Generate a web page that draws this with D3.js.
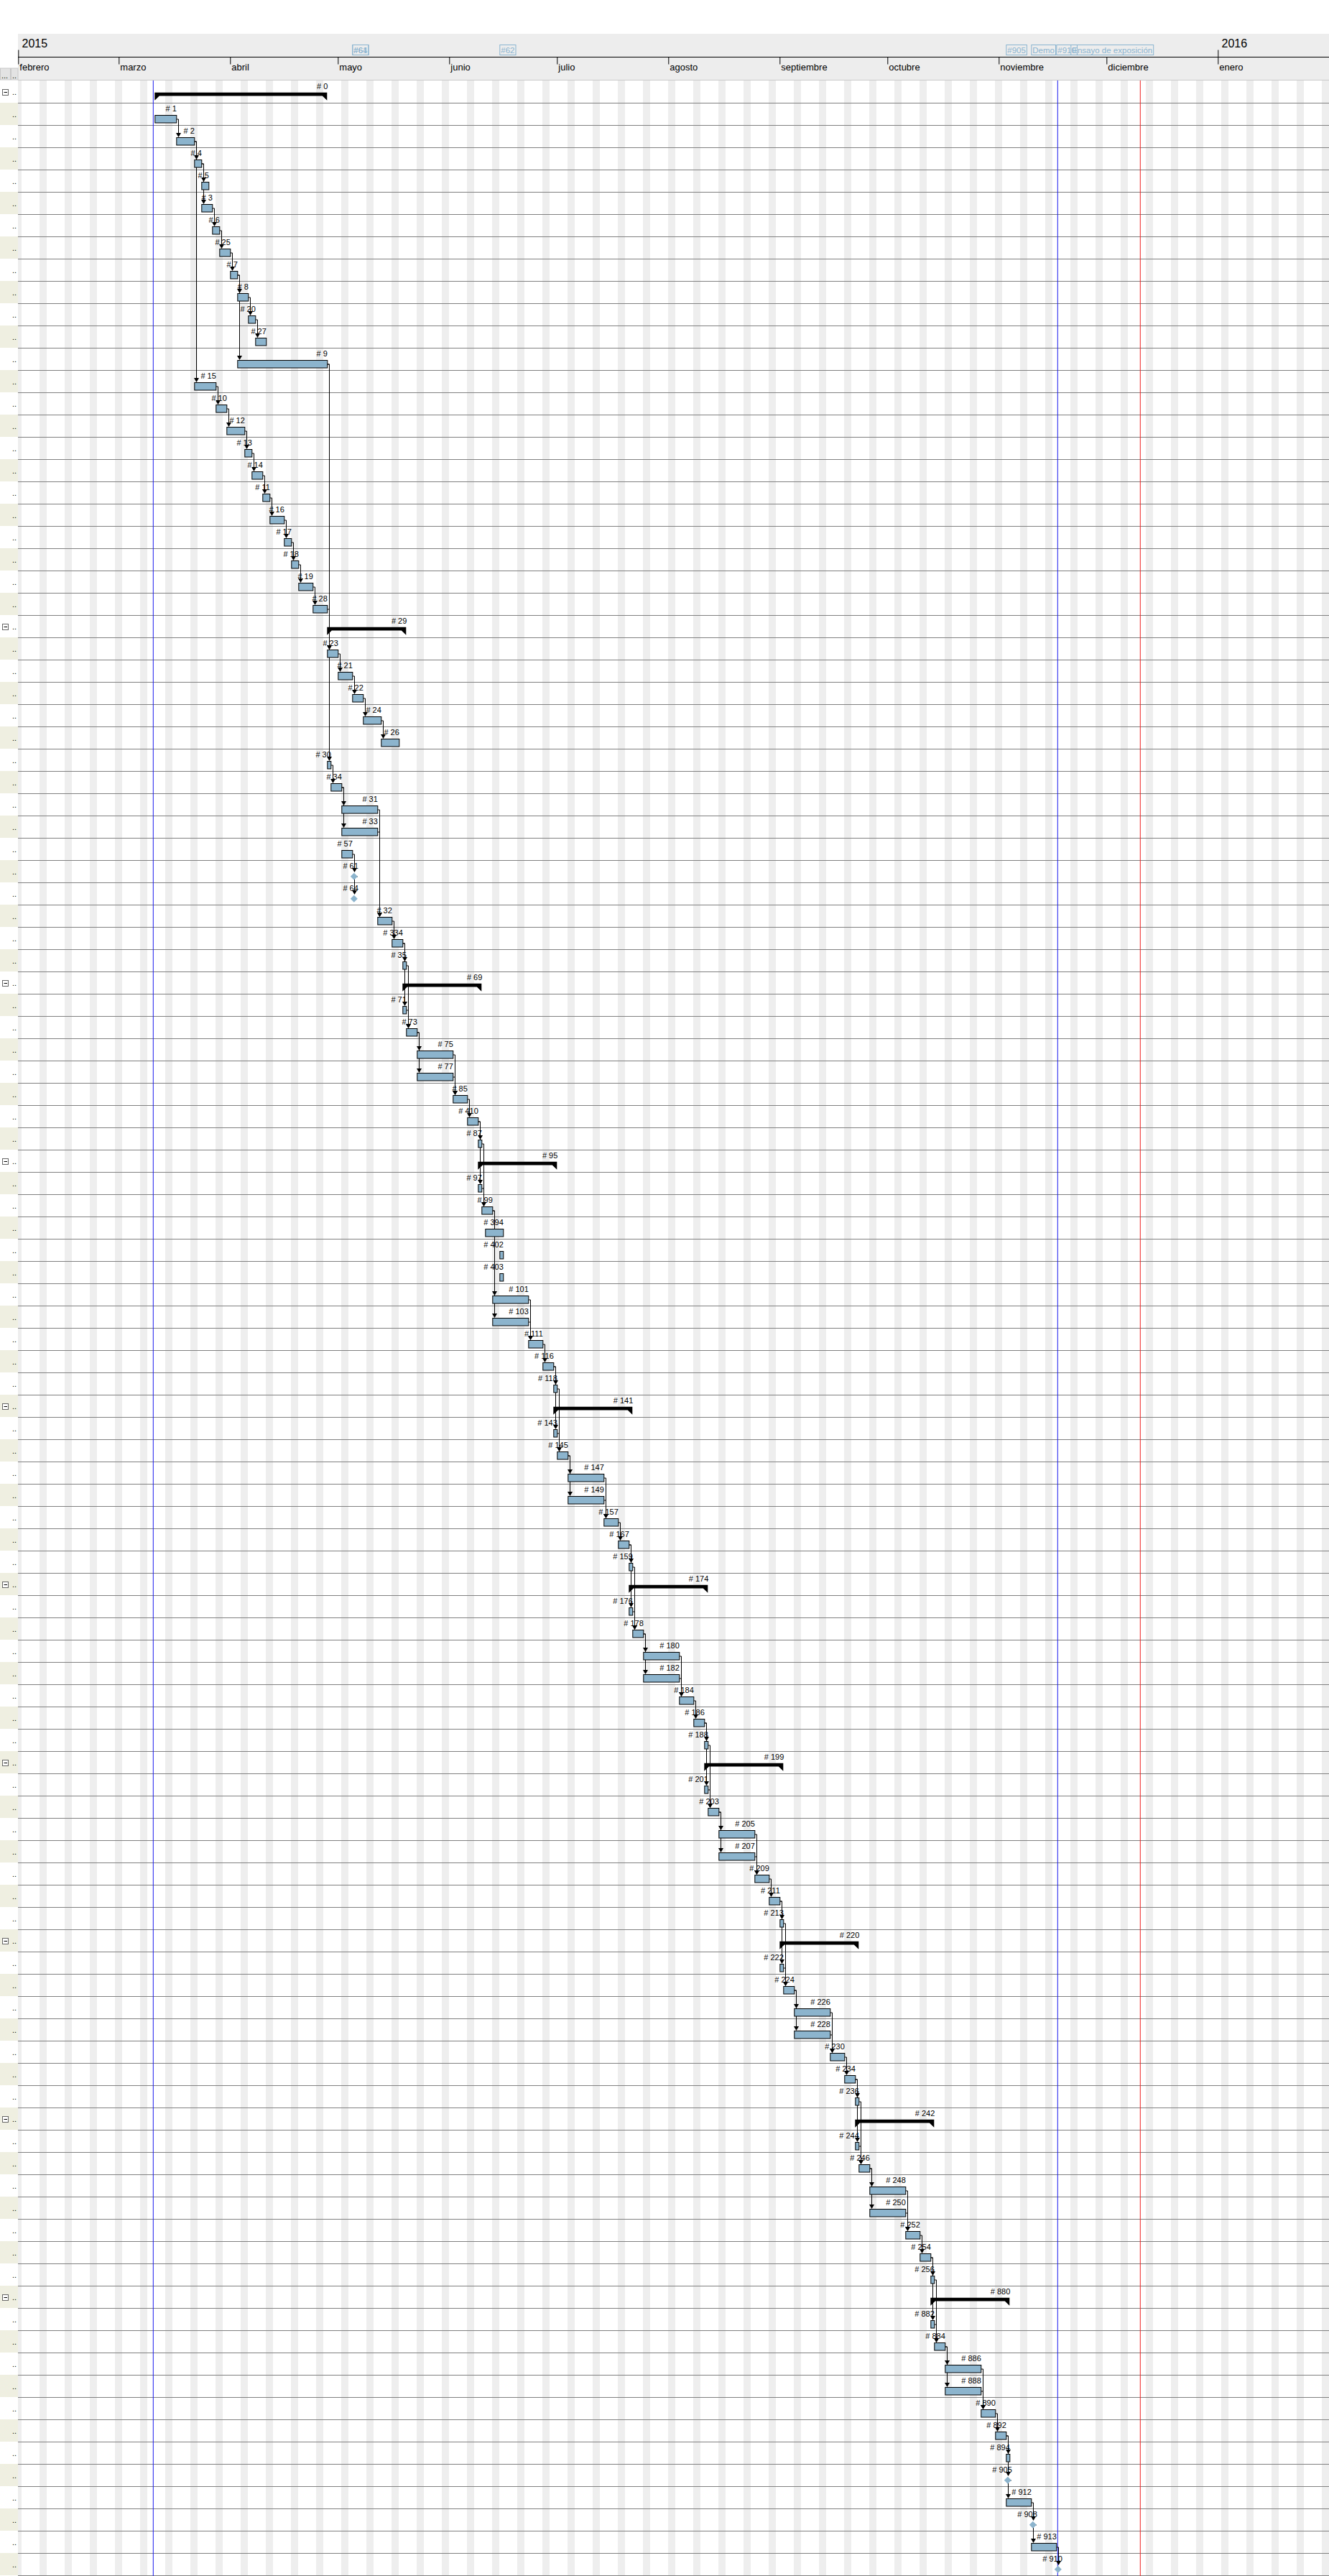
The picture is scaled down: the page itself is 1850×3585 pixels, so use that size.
<!DOCTYPE html>
<html><head><meta charset="utf-8">
<script src="https://cdn.jsdelivr.net/npm/d3@7"></script>
<style>body{margin:0;background:#fff}svg{display:block}</style>
</head><body><svg id="c" width="1850" height="3585"></svg>
<script>
// ---------- data ----------
const taskIds = ["0","1","2","4","5","3","6","25","7","8","20","27","9","15","10","12","13","14","11","16","17","18","19","28",
"29","23","21","22","24","26","30","34","31","33","57","61","64","32","334","35",
"69","71","73","75","77","85","410","87",
"95","97","99","394","402","403","101","103","111","116","118",
"141","143","145","147","149","157","167","159",
"174","176","178","180","182","184","186","188",
"199","201","203","205","207","209","211","213",
"220","222","224","226","228","230","234","236",
"242","244","246","248","250","252","254","256",
"880","882","884","886","888","890","892","894",
"905","912","908","913","910"];
const taskKinds = ("S T T T T T T T T T T T T T T T T T T T T T T T " +
"S T T T T T T T T T T M M T T T " +
"S T T T T T T T " +
"S T T T T T T T T T T " +
"S T T T T T T T " +
"S T T T T T T T " +
"S T T T T T T T " +
"S T T T T T T T " +
"S T T T T T T T " +
"S T T T T T T T " +
"M T M T M").split(" ");
const taskStart = ["03-11","03-11","03-17","03-22","03-24","03-24","03-27","03-29","04-01","04-03","04-06","04-08","04-03","03-22","03-28","03-31","04-05","04-07","04-10","04-12","04-16","04-18","04-20","04-24",
"04-28","04-28","05-01","05-05","05-08","05-13","04-28","04-29","05-02","05-02","05-02","05-05","05-05","05-12","05-16","05-19",
"05-19","05-19","05-20","05-23","05-23","06-02","06-06","06-09",
"06-09","06-09","06-10","06-11","06-15","06-15","06-13","06-13","06-23","06-27","06-30",
"06-30","06-30","07-01","07-04","07-04","07-14","07-18","07-21",
"07-21","07-21","07-22","07-25","07-25","08-04","08-08","08-11",
"08-11","08-11","08-12","08-15","08-15","08-25","08-29","09-01",
"09-01","09-01","09-02","09-05","09-05","09-15","09-19","09-22",
"09-22","09-22","09-23","09-26","09-26","10-06","10-10","10-13",
"10-13","10-13","10-14","10-17","10-17","10-27","10-31","11-03",
"11-03","11-03","11-10","11-10","11-17"];
const taskEnd = ["04-28","03-17","03-22","03-24","03-26","03-27","03-29","04-01","04-03","04-06","04-08","04-11","04-28","03-28","03-31","04-05","04-07","04-10","04-12","04-16","04-18","04-20","04-24","04-28",
"05-20","05-01","05-05","05-08","05-13","05-18","04-29","05-02","05-12","05-12","05-05","05-05","05-05","05-16","05-19","05-20",
"06-10","05-20","05-23","06-02","06-02","06-06","06-09","06-10",
"07-01","06-10","06-13","06-16","06-16","06-16","06-23","06-23","06-27","06-30","07-01",
"07-22","07-01","07-04","07-14","07-14","07-18","07-21","07-22",
"08-12","07-22","07-25","08-04","08-04","08-08","08-11","08-12",
"09-02","08-12","08-15","08-25","08-25","08-29","09-01","09-02",
"09-23","09-02","09-05","09-15","09-15","09-19","09-22","09-23",
"10-14","09-23","09-26","10-06","10-06","10-10","10-13","10-14",
"11-04","10-14","10-17","10-27","10-27","10-31","11-03","11-04",
"11-03","11-10","11-10","11-17","11-17"];
const linkFrom = ["1","2","2","4","4","3","6","25","7","7","8","20","15","10","12","13","14","11","16","17","18","19",
"28","9","9","23","21","22","24","30","34","34","57","61","31","33","32","334","334","35","71",
"73","73","75","77","85","410","410","87","97","99","99","101","103","111","116","116","118",
"143","145","145","147","149","157","167","167","159","176","178","178","180","182","184","186","186","188",
"201","203","203","205","207","209","211","211","213","222","224","224","226","228","230","234","234","236",
"244","246","246","248","250","252","254","254","256","882","884","884","886","888","890","892","892","905","912","908","913"];
const linkTo = ["2","4","15","5","3","6","25","7","8","9","20","27","10","12","13","14","11","16","17","18","19","28",
"23","23","30","21","22","24","26","34","31","33","61","64","32","32","334","35","71","73","73",
"75","77","85","85","410","87","97","99","99","101","103","111","111","116","118","143","145",
"145","147","149","157","157","167","159","176","178","178","180","182","184","184","186","188","201","203",
"203","205","207","209","209","211","213","222","224","224","226","228","230","230","234","236","244","246",
"246","248","250","252","252","254","256","882","884","884","886","888","890","890","892","894","905","912","908","913","910"];
const monthNames = ["enero","febrero","marzo","abril","mayo","junio","julio","agosto","septiembre","octubre","noviembre","diciembre"];
const yearLabels = ["2015","2016"];
const markerLabels = ["#61","#64","#62","#905","Demo","#910","Ensayo de exposición"];
const markerDates = ["05-05","05-05","06-15","11-03","11-10","11-17","11-21"];
const projectStart = "03-11", projectEnd = "11-17", todayDate = "12-10";

// ---------- helpers ----------
const pd = s => new Date(Date.UTC(2015, +s.slice(0,2)-1, +s.slice(3,5)));
const W = 1850, ROW = 31, TOP = 112, LEFT = 25.3, H = 3585;
const t0 = new Date(Date.UTC(2015,1,1)), t1 = new Date(Date.UTC(2016,1,1));
const x = d3.scaleUtc().domain([t0, t1]).range([LEFT, LEFT + 365*5]);
const svg = d3.select("#c");
const FONT = "'Liberation Sans', Arial, sans-serif";
const nRows = taskIds.length;
const rowTop = i => TOP + ROW*i;
const tasks = taskIds.map((id,i) => ({id, i, kind: taskKinds[i], s: pd(taskStart[i]), e: pd(taskEnd[i])}));
const byId = new Map(tasks.map(t => [t.id, t]));

// header
svg.append("rect").attr("x", 25).attr("y", 47).attr("width", W-25).attr("height", 64).attr("fill", "#ededed");
svg.append("line").attr("x1", 25).attr("x2", W).attr("y1", 111.5).attr("y2", 111.5).attr("stroke", "#c9c9c9");

// weekend stripes
const days = d3.utcDay.range(t0, t1);
svg.append("g").selectAll("rect").data(days.filter(d => d.getUTCDay() === 6 || d.getUTCDay() === 0))
  .join("rect").attr("x", d => x(d)).attr("y", 112).attr("width", d => x(d3.utcDay.offset(d,1)) - x(d))
  .attr("height", H-112).attr("fill", "#eeeeee").attr("shape-rendering","crispEdges");

// left column
const lc = svg.append("g");
tasks.forEach(t => {
  const y = rowTop(t.i);
  lc.append("rect").attr("x",0).attr("y",y).attr("width",25).attr("height",ROW)
    .attr("fill", t.i % 2 ? "#efefe1" : "#ffffff");
  lc.append("text").attr("x",17).attr("y",y+20).attr("font-family",FONT).attr("font-size",11).text("..");
  if (t.kind === "S") {
    lc.append("rect").attr("x",3.5).attr("y",y+12.5).attr("width",8).attr("height",8).attr("fill","#fff").attr("stroke","#666");
    lc.append("line").attr("x1",5.5).attr("x2",10).attr("y1",y+16.5).attr("y2",y+16.5).attr("stroke","#000");
  }
});
// header buttons
[[0.5,14],[15.5,9.5]].forEach(([bx,bw],k) => {
  svg.append("rect").attr("x",bx).attr("y",95).attr("width",bw).attr("height",16).attr("fill","#e3e3e3").attr("stroke","#c8c8c8");
  svg.append("text").attr("x",bx+1.5).attr("y",109).attr("font-family",FONT).attr("font-size",11).text(k? "..":"...");
});

// row lines
svg.append("g").selectAll("line").data(d3.range(nRows)).join("line")
  .attr("x1",25).attr("x2",W).attr("y1", i => rowTop(i)+ROW+0.5).attr("y2", i => rowTop(i)+ROW+0.5)
  .attr("stroke","#808080");

// axes
const gMonth = svg.append("g").attr("transform","translate(0,79.5)")
  .call(d3.axisBottom(x).tickValues(d3.utcMonth.range(t0, t1)).tickSize(10).tickFormat(d => monthNames[d.getUTCMonth()]));
gMonth.select(".domain").attr("d", `M25,0H${W}`).attr("stroke","#000");
gMonth.selectAll(".tick text").attr("text-anchor","start").attr("x",1.5).attr("y",18.2).attr("dy",0)
  .attr("font-family",FONT).attr("font-size",13).attr("fill","#000");
const gYear = svg.append("g").attr("transform","translate(0,79.5)")
  .call(d3.axisTop(x).tickValues([t0, new Date(Date.UTC(2016,0,1))]).tickSize(10)
    .tickFormat((d,k) => yearLabels[k]));
gYear.select(".domain").remove();
gYear.selectAll(".tick text").attr("text-anchor","start").attr("x",4.7).attr("y",-13.5).attr("dy",0)
  .attr("font-family",FONT).attr("font-size",16).attr("fill","#000");

// header markers
const gm = svg.append("g");
markerLabels.forEach((lab,k) => {
  const mx = x(pd(markerDates[k]));
  const t = gm.append("text").attr("x", mx+2).attr("y", 73.5).attr("font-family",FONT).attr("font-size",11.5)
    .attr("fill","#8ab4d0").text(lab);
  const w = t.node().getComputedTextLength();
  gm.insert("rect","text").attr("x", mx+0.5).attr("y",62.5).attr("width", w+3).attr("height",14)
    .attr("fill","none").attr("stroke","#8ab4d0");
});

// vertical marker lines
svg.append("line").attr("x1", x(pd(projectStart))-2).attr("x2", x(pd(projectStart))-2).attr("y1",112).attr("y2",H).attr("stroke","#1a1aee");
svg.append("line").attr("x1", x(pd(projectEnd))+2).attr("x2", x(pd(projectEnd))+2).attr("y1",112).attr("y2",H).attr("stroke","#1a1aee");
svg.append("line").attr("x1", x(pd(todayDate))+2).attr("x2", x(pd(todayDate))+2).attr("y1",112).attr("y2",H).attr("stroke","#ee2222");

// dependency links
const gl = svg.append("g");
const endX = t => t.kind === "M" ? x(t.s)+7.5 : x(t.e);
const inX = t => t.kind === "M" ? x(t.s)+2.5 : x(t.s)+3;
linkFrom.forEach((f,k) => {
  const a = byId.get(f), b = byId.get(linkTo[k]);
  const xe = endX(a), ym = rowTop(a.i)+23, xl = Math.round(inX(b))+0.5, yt = rowTop(b.i)+17;
  gl.append("path").attr("d", `M${xe},${ym}H${xl}V${yt-1}`).attr("fill","none").attr("stroke","#000");
  gl.append("path").attr("d", `M${xl-3.5},${yt-6}H${xl+3.5}L${xl},${yt}Z`).attr("fill","#000");
});

// bars
const gb = svg.append("g");
tasks.forEach(t => {
  const y = rowTop(t.i);
  let xr;
  if (t.kind === "T") {
    gb.append("rect").attr("x", x(t.s)+0.5).attr("y", y+17.5).attr("width", x(t.e)-x(t.s)).attr("height", 10.5)
      .attr("fill","#8cb4cd").attr("stroke","#000");
    xr = x(t.e)+0.5;
  } else if (t.kind === "S") {
    const x0 = x(t.s), x1 = x(t.e);
    gb.append("path").attr("d", `M${x0},${y+16.7}H${x1}V${y+27.7}L${x1-6.5},${y+21.4}H${x0+6.5}L${x0},${y+27.7}Z`).attr("fill","#000");
    xr = x1+1;
  } else {
    const cx = x(t.s)+2.5, cy = y+22.7;
    gb.append("path").attr("d", `M${cx},${cy-5}L${cx+5},${cy}L${cx},${cy+5}L${cx-5},${cy}Z`).attr("fill","#8cb4cd");
    xr = x(t.s)+8.5;
  }
  gb.append("text").attr("x", xr).attr("y", y+12).attr("text-anchor","end").attr("font-family",FONT)
    .attr("font-size",11).attr("fill","#000").text("# " + t.id);
});
</script></body></html>
